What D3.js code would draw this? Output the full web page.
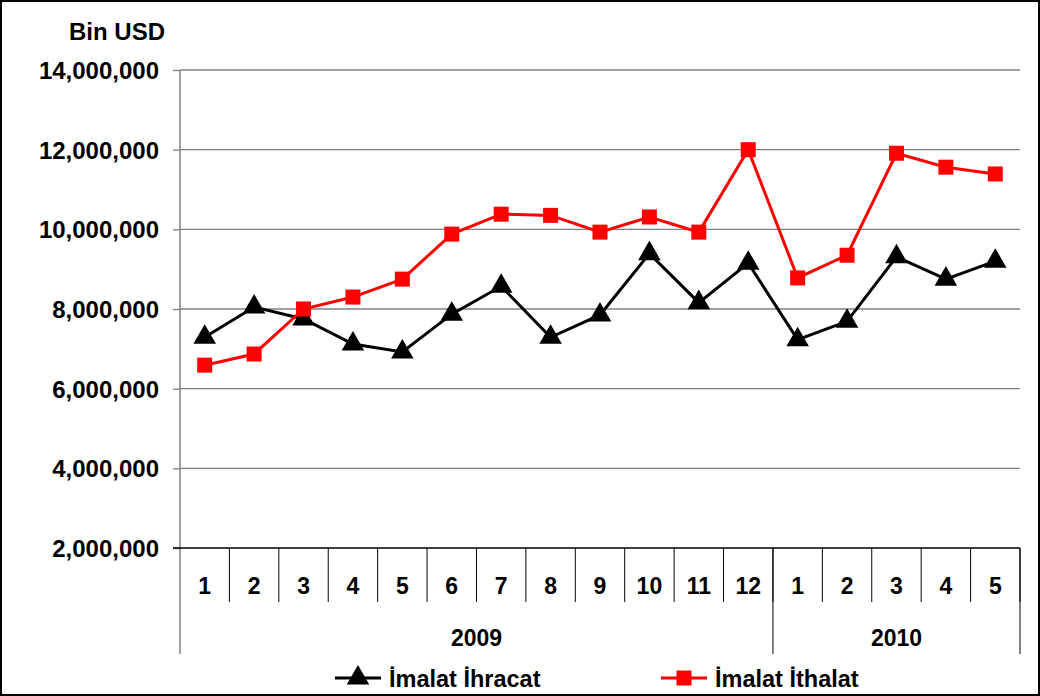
<!DOCTYPE html>
<html><head><meta charset="utf-8">
<script src="https://cdn.jsdelivr.net/npm/d3@7"></script>
<style>body{margin:0;background:#fff}svg{display:block}text{font-family:"Liberation Sans",Arial,sans-serif;font-weight:bold;fill:#000}</style>
</head><body><svg id="c" width="1040" height="696"></svg>
<script>
const months = ["1","2","3","4","5","6","7","8","9","10","11","12","1","2","3","4","5"];
const years = [{label:"2009", count:12},{label:"2010", count:5}];
const ihracat = [7.29,8.05,7.75,7.12,6.92,7.87,8.57,7.29,7.85,9.39,8.16,9.15,7.23,7.69,9.31,8.75,9.20].map(v=>v*1e6);
const ithalat = [6.59,6.87,8.00,8.30,8.75,9.88,10.38,10.35,9.93,10.31,9.93,12.00,8.78,9.35,11.91,11.56,11.39].map(v=>v*1e6);
const yTicks = [2e6,4e6,6e6,8e6,10e6,12e6,14e6];
const seriesNames = ["İmalat İhracat","İmalat İthalat"];
const unitLabel = "Bin USD";

const svg = d3.select("#c");
const L=180,R=1020,T=70,B=548;
svg.append("rect").attr("x",1).attr("y",1).attr("width",1038).attr("height",694).attr("fill","none").attr("stroke","#000").attr("stroke-width",2);

const x = d3.scaleBand().domain(d3.range(months.length)).range([L,R]).paddingInner(0).paddingOuter(0);
const y = d3.scaleLinear().domain([2e6,14e6]).range([B,T]);
const cx = i => x(i)+x.bandwidth()/2;

// gridlines
svg.append("g").selectAll("line").data(yTicks.filter(d=>d>2e6)).join("line")
  .attr("x1",L).attr("x2",R).attr("y1",d=>y(d)).attr("y2",d=>y(d))
  .attr("stroke","#808080").attr("stroke-width",1.3);
// y axis
const ya = d3.axisLeft(y).tickValues(yTicks).tickFormat(d3.format(",")).tickSize(7).tickPadding(14);
const yg = svg.append("g").attr("transform",`translate(${L},0)`).call(ya);
yg.select(".domain").remove();
yg.selectAll(".tick line").attr("stroke","#808080").attr("stroke-width",1.3);
yg.selectAll(".tick text").style("font-size","24px").attr("font-family",null).attr("dy","0.35em");
svg.append("line").attr("x1",L).attr("x2",L).attr("y1",T).attr("y2",654).attr("stroke","#808080").attr("stroke-width",1.5);
// baseline
svg.append("line").attr("x1",L-7).attr("x2",R).attr("y1",B).attr("y2",B).attr("stroke","#000").attr("stroke-width",1.3);

svg.append("text").attr("x",165).attr("y",40).attr("text-anchor","end").style("font-size","24px").text(unitLabel);

// category separators
svg.append("g").selectAll("line").data(d3.range(1,months.length+1)).join("line")
  .attr("x1",i=>x(i-1)+x.bandwidth()).attr("x2",i=>x(i-1)+x.bandwidth())
  .attr("y1",B).attr("y2",602).attr("stroke","#000").attr("stroke-width",1);
svg.append("g").selectAll("text").data(months).join("text")
  .attr("x",(d,i)=>cx(i)).attr("y",594).attr("text-anchor","middle").style("font-size","23px").text(d=>d);
// year separators & labels
let start=0;
const yb=[];
years.forEach(yr=>{yb.push({label:yr.label,s:start,e:start+yr.count});start+=yr.count;});
yb.forEach(b=>{
  const x0=x(b.s), x1=x(b.e-1)+x.bandwidth();
  svg.append("line").attr("x1",x1).attr("x2",x1).attr("y1",B).attr("y2",654).attr("stroke","#000").attr("stroke-width",1);
  svg.append("text").attr("x",(x0+x1)/2).attr("y",646).attr("text-anchor","middle").style("font-size","23px").text(b.label);
});

// lines
const line = d3.line().x((d,i)=>cx(i)).y(d=>y(d));
svg.append("path").datum(ihracat).attr("d",line).attr("fill","none").attr("stroke","#000").attr("stroke-width",3);
svg.append("path").datum(ithalat).attr("d",line).attr("fill","none").attr("stroke","#ff0000").attr("stroke-width",3);
const tri = d3.symbol().type(d3.symbolTriangle).size(220);
svg.append("g").selectAll("path").data(ihracat).join("path")
  .attr("transform",(d,i)=>`translate(${cx(i)},${y(d)})`).attr("d",tri).attr("fill","#000");
svg.append("g").selectAll("rect").data(ithalat).join("rect")
  .attr("x",(d,i)=>cx(i)-7.5).attr("y",d=>y(d)-7.5).attr("width",15).attr("height",15).attr("fill","#ff0000");

// legend
const lg = svg.append("g");
const legendItems=[{name:seriesNames[0],x:335,color:"#000",type:"tri"},{name:seriesNames[1],x:661,color:"#ff0000",type:"sq"}];
legendItems.forEach(it=>{
  lg.append("line").attr("x1",it.x).attr("x2",it.x+46).attr("y1",678).attr("y2",678).attr("stroke",it.color).attr("stroke-width",3);
  if(it.type==="tri") lg.append("path").attr("transform",`translate(${it.x+23},678)`).attr("d",tri).attr("fill",it.color);
  else lg.append("rect").attr("x",it.x+23-7.5).attr("y",678-7.5).attr("width",15).attr("height",15).attr("fill",it.color);
  lg.append("text").attr("x",it.x+54).attr("y",687).style("font-size","23.5px").text(it.name);
});
</script></body></html>
